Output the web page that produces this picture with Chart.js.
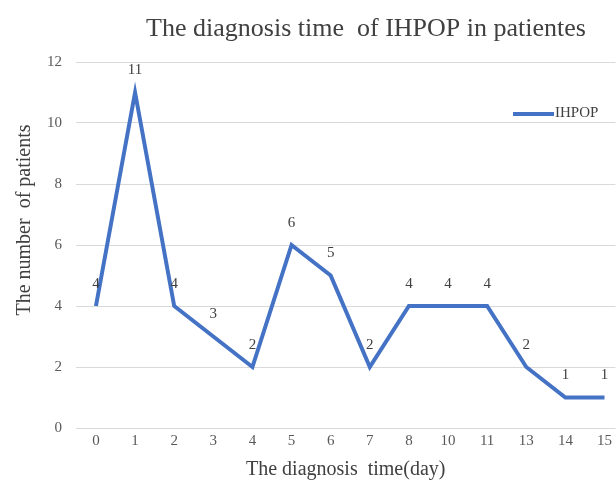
<!DOCTYPE html>
<html lang="en">
<head>
    <meta charset="UTF-8">
    <title>The diagnosis time of IHPOP in patientes</title>
    <style>
        body {
            margin: 0;
            padding: 0;
            background-color: #ffffff;
        }

        #wrap {
            width: 616px;
            height: 485px;
        }
    </style>
</head>
<body>
    <div id="wrap">
        <canvas id="diagChart" width="616" height="485"></canvas>
    </div>

    <script src="https://cdn.jsdelivr.net/npm/chart.js"></script>
    <script>
        // days since onset (category labels)
        const dayLabels = ['0', '1', '2', '3', '4', '5', '6', '7', '8', '10', '11', '13', '14', '15'];
        // number of patients per day
        const patientCounts = [4, 11, 4, 3, 2, 6, 5, 2, 4, 4, 4, 2, 1, 1];
        const yTicks = [0, 2, 4, 6, 8, 10, 12];

        const serif = "'Liberation Serif', 'DejaVu Serif', serif";
        const textGrey = '#404040';

        // value labels above each point + title / y title / legend drawn by hand
        const decorations = {
            id: 'decorations',
            afterDatasetsDraw(chart) {
                const ctx = chart.ctx;
                const meta = chart.getDatasetMeta(0);
                ctx.save();
                ctx.font = '15px ' + serif;
                ctx.fillStyle = textGrey;
                ctx.textAlign = 'center';
                ctx.textBaseline = 'middle';
                meta.data.forEach((pt, i) => {
                    ctx.fillText(String(patientCounts[i]), pt.x, pt.y - 22);
                });

                // chart title
                ctx.font = '26px ' + serif;
                ctx.fillText('The diagnosis time  of IHPOP in patientes', 366, 29);

                // y axis title
                ctx.save();
                ctx.translate(25, 220);
                ctx.rotate(-Math.PI / 2);
                ctx.font = '20px ' + serif;
                ctx.fillText('The number  of patients', 0, 0);
                ctx.restore();

                // legend
                ctx.strokeStyle = '#4472C4';
                ctx.lineWidth = 4;
                ctx.beginPath();
                ctx.moveTo(513, 114);
                ctx.lineTo(554, 114);
                ctx.stroke();
                ctx.font = '15px ' + serif;
                ctx.textAlign = 'left';
                ctx.fillText('IHPOP', 555, 113);
                ctx.restore();
            }
        };

        new Chart(document.getElementById('diagChart'), {
            type: 'line',
            data: {
                datasets: [{
                    label: 'IHPOP',
                    data: patientCounts.map((v, i) => ({ x: i, y: v })),
                    borderColor: '#4472C4',
                    backgroundColor: '#4472C4',
                    borderWidth: 4,
                    pointRadius: 0,
                    tension: 0,
                    fill: false
                }]
            },
            options: {
                responsive: false,
                animation: false,
                layout: {
                    padding: { top: 62, right: 0, left: 33, bottom: 3 }
                },
                scales: {
                    x: {
                        type: 'linear',
                        min: -0.51,
                        max: 13.28,
                        afterBuildTicks(axis) {
                            axis.ticks = dayLabels.map((d, i) => ({ value: i }));
                        },
                        ticks: {
                            autoSkip: false,
                            maxRotation: 0,
                            padding: 4,
                            color: '#595959',
                            font: { family: serif, size: 15 },
                            callback: (v) => dayLabels[v] ?? ''
                        },
                        grid: { display: false, drawTicks: false },
                        border: { display: false },
                        title: {
                            display: true,
                            text: 'The diagnosis  time(day)',
                            color: textGrey,
                            font: { family: serif, size: 20 },
                            padding: { top: 4, bottom: 0 }
                        }
                    },
                    y: {
                        min: 0,
                        max: 12,
                        afterBuildTicks(axis) {
                            axis.ticks = yTicks.map(v => ({ value: v }));
                        },
                        ticks: {
                            color: '#595959',
                            font: { family: serif, size: 15 },
                            padding: 14
                        },
                        grid: {
                            color: '#d9d9d9',
                            lineWidth: 1,
                            drawTicks: false
                        },
                        border: { display: false }
                    }
                },
                plugins: {
                    title: { display: false },
                    legend: { display: false },
                    tooltip: { enabled: false }
                }
            },
            plugins: [decorations]
        });
    </script>
</body>
</html>
